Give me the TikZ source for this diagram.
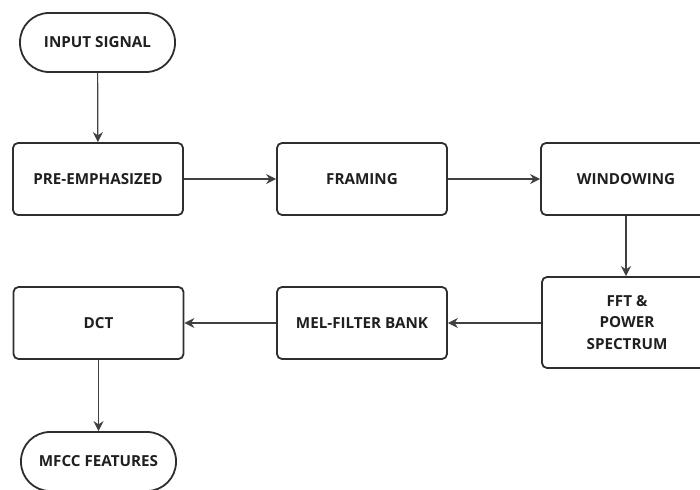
\documentclass[tikz,border=0pt]{standalone}
\usepackage{fontspec}
\setmainfont{Open Sans}
\usetikzlibrary{arrows.meta}
\begin{document}
\begin{tikzpicture}[x=1pt,y=-1pt,
  box/.style={draw=black!82,line width=1.8pt,rounded corners=5pt,minimum width=170pt,minimum height=72pt,align=center,font=\fontsize{15.2}{21.5}\selectfont\bfseries,text=black!88,inner sep=0pt},
  term/.style={draw=black!82,line width=1.8pt,rounded corners=29pt,minimum width=155pt,minimum height=59pt,align=center,font=\fontsize{15.2}{21.5}\selectfont\bfseries,text=black!88,inner sep=0pt},
  conn/.style={draw=black!75,line width=1.2pt,-{Stealth[length=10pt,width=10pt]}}]
\useasboundingbox (0,0) rectangle (700,489);
\begin{scope}
\clip (0,0) rectangle (700,489);
\node[term] (in) at (97.5,42.5) {INPUT SIGNAL};
\node[box] (pre) at (98,179) {PRE-EMPHASIZED};
\node[box] (fr) at (362,179) {FRAMING};
\node[box] (win) at (626,179) {WINDOWING};
\node[box,minimum height=91pt] (fft) at (627,322.5) {FFT \&\\POWER\\SPECTRUM};
\node[box] (mel) at (362,323) {MEL-FILTER BANK};
\node[box] (dct) at (98.5,323) {DCT};
\node[term] (mfcc) at (98.5,461.5) {MFCC FEATURES};
\draw[conn] (in) -- (pre);
\draw[conn] (pre) -- (fr);
\draw[conn] (fr) -- (win);
\draw[conn] (win.south) -- (win.south |- fft.north);
\draw[conn] (fft.west |- mel) -- (mel);
\draw[conn] (mel) -- (dct);
\draw[conn] (dct) -- (mfcc);
\end{scope}
\end{tikzpicture}
\end{document}
